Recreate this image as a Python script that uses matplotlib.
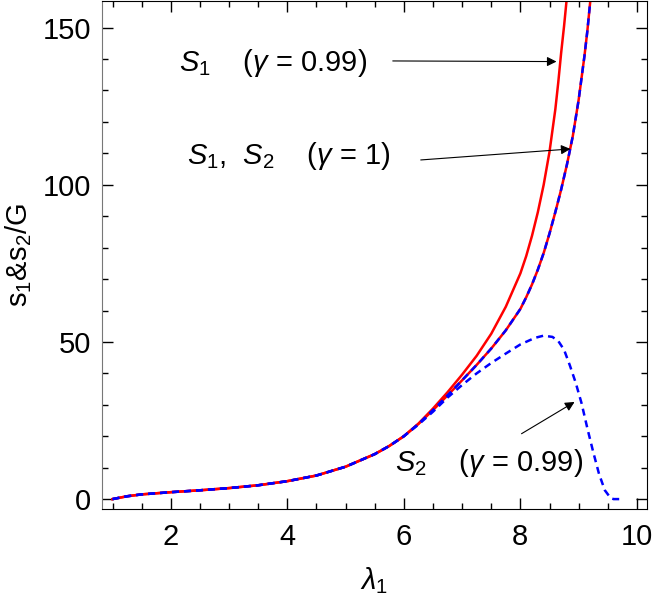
import matplotlib
matplotlib.use("Agg")
import matplotlib.pyplot as plt
from matplotlib.ticker import MultipleLocator

plt.rcParams['font.family'] = ['Liberation Sans', 'DejaVu Sans']
plt.rcParams['mathtext.fontset'] = 'custom'
plt.rcParams['mathtext.rm'] = 'Liberation Sans'
plt.rcParams['mathtext.it'] = 'Liberation Sans:italic'

# S1 = S2 for gamma = 1
lam_g1 = [1.0, 1.25, 1.5, 2.0, 2.5, 3.0, 3.5, 4.0, 4.5, 5.0, 5.5, 5.75, 6.0, 6.25,
          6.5, 6.75, 7.0, 7.25, 7.5, 7.75, 8.0, 8.1, 8.2, 8.3, 8.4, 8.5, 8.6, 8.7,
          8.8, 8.9, 9.0, 9.1, 9.15, 9.2]
s_g1 = [0.0, 0.9, 1.5, 2.2, 2.8, 3.5, 4.4, 5.7, 7.5, 10.3, 14.3, 16.9, 20.0, 23.9,
        28.3, 33.0, 37.8, 42.7, 47.9, 53.7, 60.5, 64.2, 68.3, 73.0, 78.3, 84.5, 91.3, 98.5,
        106.5, 115.5, 127.0, 141.0, 149.0, 158.5]

# S1 for gamma = 0.99
lam_s1 = [1.0, 1.25, 1.5, 2.0, 2.5, 3.0, 3.5, 4.0, 4.5, 5.0, 5.5, 5.75, 6.0, 6.25,
          6.5, 6.75, 7.0, 7.25, 7.5, 7.75, 8.0, 8.1, 8.2, 8.3, 8.4, 8.5, 8.6, 8.65,
          8.7, 8.75, 8.8]
s1_099 = [0.0, 0.9, 1.5, 2.2, 2.8, 3.5, 4.4, 5.7, 7.5, 10.3, 14.3, 16.9, 20.0, 24.0,
          28.8, 34.0, 39.6, 45.6, 52.6, 61.2, 71.8, 77.3, 83.8, 91.3, 100.0, 110.5, 124.0, 132.5,
          142.0, 150.5, 160.0]

# S2 for gamma = 0.99
lam_s2 = [1.0, 1.25, 1.5, 2.0, 2.5, 3.0, 3.5, 4.0, 4.5, 5.0, 5.5, 5.75, 6.0, 6.25,
          6.5, 6.75, 7.0, 7.25, 7.5, 7.75, 8.0, 8.25, 8.4, 8.55, 8.65, 8.75, 8.85, 8.95,
          9.05, 9.15, 9.25, 9.35, 9.45, 9.55, 9.6, 9.75]
s2_099 = [0.0, 0.9, 1.5, 2.2, 2.8, 3.5, 4.4, 5.7, 7.5, 10.3, 14.3, 16.9, 20.0, 23.7,
          27.8, 32.3, 36.3, 40.0, 43.3, 46.3, 49.2, 51.3, 52.0, 51.6, 50.3, 47.5, 42.5, 37.0,
          30.5, 22.5, 15.0, 8.0, 2.8, 0.3, 0.0, 0.0]

fig = plt.figure(figsize=(6.54, 5.99), dpi=100)
ax = fig.add_axes([0.156, 0.150, 0.833, 0.849])

lw = 1.8
ax.plot(lam_s1, s1_099, color='red', lw=lw)
ax.plot(lam_g1, s_g1, color='red', lw=lw)
ax.plot(lam_g1, s_g1, color='blue', lw=lw, dashes=(2.8, 2.0))
ax.plot(lam_s2, s2_099, color='blue', lw=lw, dashes=(2.8, 2.0))

ax.set_xlim(0.82, 10.17)
ax.set_ylim(-3.2, 158.6)
ax.xaxis.set_major_locator(MultipleLocator(2))
ax.xaxis.set_minor_locator(MultipleLocator(0.5))
ax.yaxis.set_major_locator(MultipleLocator(50))
ax.yaxis.set_minor_locator(MultipleLocator(10))
ax.tick_params(which='both', direction='in', top=True, right=True, labelsize=21, width=1)
ax.tick_params(which='major', length=8)
ax.tick_params(which='minor', length=4)
ax.tick_params(axis='x', pad=10)
ax.tick_params(axis='y', pad=8)
ax.spines['left'].set_color('#777777')

ax.set_xlabel(r'$\lambda_1$', fontsize=21, labelpad=10)
ax.set_ylabel(r's$_1$&s$_2$/G', fontsize=21, labelpad=6)

aprops = dict(arrowstyle='-|>', lw=0.8, color='black', mutation_scale=14, shrinkA=0, shrinkB=0)
ax.text(3.75, 138.7, r'$S_1$    ($\gamma$ = 0.99)', fontsize=21, ha='center', va='center')
ax.annotate('', xy=(8.62, 139.2), xytext=(5.81, 139.4), arrowprops=aprops)
ax.text(4.03, 109.2, r'$S_1$,  $S_2$    ($\gamma$ = 1)', fontsize=21, ha='center', va='center')
ax.annotate('', xy=(8.86, 111.4), xytext=(6.29, 107.9), arrowprops=aprops)
ax.text(7.47, 11.4, r'$S_2$    ($\gamma$ = 0.99)', fontsize=21, ha='center', va='center')
ax.annotate('', xy=(8.93, 30.9), xytext=(8.02, 20.8), arrowprops=aprops)

fig.savefig('out.png', dpi=100)
